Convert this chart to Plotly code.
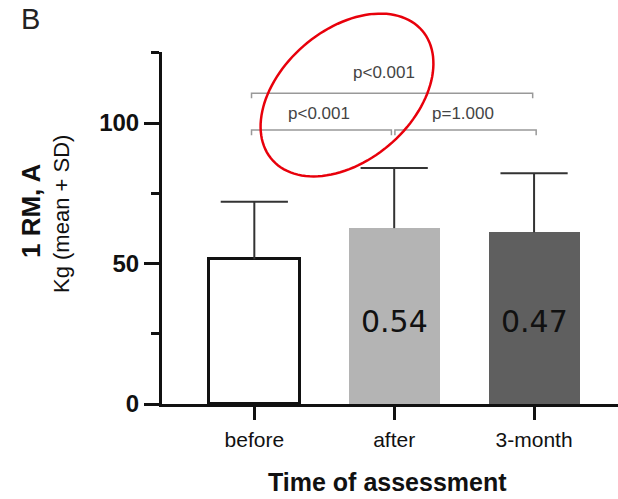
import numpy as np
import plotly.graph_objects as go

# ---- data ----
categories = ["before", "after", "3-month"]
means = [51.5, 62.6, 61.1]
sds = [20.5, 21.4, 21.0]
bar_colors = ["#ffffff", "#b4b4b4", "#5f5f5f"]
bar_outline = [3, 0, 0]
bar_value_labels = ["", "0.54", "0.47"]
bar_value_y = 29.3
# comparisons: (from index, to index, bracket y, label x, label y, label)
comparisons = [
    (-0.02, 1.99, 110.6, 0.93, 118.0, "p<0.001"),
    (-0.02, 0.98, 97.5, 0.46, 103.5, "p<0.001"),
    (1.005, 2.015, 97.5, 1.49, 103.5, "p=1.000"),
]
y_ticks = [0, 50, 100]

W, H = 618, 499
L, R, T, B = 162, 0, 52, 95
PW, PH = W - L - R, H - T - B
YMAX = 125.3


def px_to_paper(px, py):
    return (px - L) / PW, (H - B - py) / PH


xs = list(range(len(categories)))

fig = go.Figure()
fig.add_trace(go.Bar(
    x=xs, y=means, width=0.65,
    marker=dict(color=bar_colors, line=dict(color="#111111", width=bar_outline)),
    showlegend=False, hoverinfo="skip",
))

# error bars (mean + SD only, no cap at the base)
stem_x, stem_y = [], []
for x, m, s in zip(xs, means, sds):
    stem_x += [x, x, None]
    stem_y += [m, m + s, None]
fig.add_trace(go.Scatter(x=stem_x, y=stem_y, mode="lines",
                         line=dict(color="#333333", width=2),
                         showlegend=False, hoverinfo="skip"))
fig.add_trace(go.Scatter(x=xs, y=[m + s for m, s in zip(means, sds)], mode="markers",
                         marker=dict(symbol="line-ew", size=48,
                                     line=dict(color="#333333", width=2)),
                         showlegend=False, hoverinfo="skip"))

annotations = []
for i, lab in enumerate(bar_value_labels):
    if lab:
        annotations.append(dict(x=xs[i], y=bar_value_y, xref="x", yref="y", text=lab,
                                xanchor="center", yanchor="middle",
                                showarrow=False, font=dict(family="DejaVu Sans", size=30, color="#111111")))

shapes = []
drop = 1.8
for (a, b, yb, xl, yl, lab) in comparisons:
    shapes.append(dict(type="path", xref="x", yref="y",
                       path=f"M {a},{yb-drop} L {a},{yb} L {b},{yb} L {b},{yb-drop}",
                       line=dict(color="#999999", width=1.5)))
    annotations.append(dict(x=xl, y=yl, xref="x", yref="y", text=lab, showarrow=False,
                            xanchor="center", yanchor="middle",
                            font=dict(family="Liberation Sans", size=17, color="#444444")))

# red ellipse (hand drawn highlight), in pixel space
cx, cy, a_, b_, th = 347, 95, 99, 65.5, np.deg2rad(40.6)
t = np.linspace(0, 2 * np.pi, 120)
ex = cx + a_ * np.cos(t) * np.cos(th) - b_ * np.sin(t) * np.sin(th)
ey = cy - (a_ * np.cos(t) * np.sin(th) + b_ * np.sin(t) * np.cos(th))
pts = [px_to_paper(x, y) for x, y in zip(ex, ey)]
path = "M " + " L ".join(f"{p[0]:.4f},{p[1]:.4f}" for p in pts) + " Z"
shapes.append(dict(type="path", xref="paper", yref="paper", path=path,
                   line=dict(color="#e8000b", width=2.5)))


def add_text(px, py, text, size, color="#111111", angle=0):
    x, y = px_to_paper(px, py)
    annotations.append(dict(x=x, y=y, xref="paper", yref="paper", text=text,
                            xanchor="center", yanchor="middle", textangle=angle,
                            showarrow=False,
                            font=dict(family="Liberation Sans", size=size, color=color)))


add_text(31, 211, "<b>1 RM, A</b>", 26, angle=-90)
add_text(61, 214, "Kg (mean + SD)", 22, angle=-90)
add_text(387, 482, "<b>Time of assessment</b>", 25)
add_text(30, 19, "B", 29, color="#222222")

fig.update_layout(
    width=W, height=H, margin=dict(l=L, r=R, t=T, b=B, pad=0),
    plot_bgcolor="white", paper_bgcolor="white",
    shapes=shapes, annotations=annotations, bargap=0,
)
fig.update_xaxes(range=[-0.66, 2.6], tickvals=xs, ticktext=categories,
                 showline=True, linecolor="#111111", linewidth=3,
                 ticks="outside", ticklen=13, tickwidth=3, tickcolor="#111111",
                 ticklabelstandoff=2,
                 tickfont=dict(family="Liberation Sans", size=21, color="#111111"),
                 showgrid=False, zeroline=False)
fig.update_yaxes(range=[0, YMAX], tickvals=y_ticks,
                 showline=True, linecolor="#111111", linewidth=3,
                 ticks="outside", ticklen=15, tickwidth=3, tickcolor="#111111",
                 minor=dict(dtick=25, tick0=0, ticks="outside", ticklen=8, tickwidth=3, tickcolor="#111111"),
                 tickfont=dict(family="Liberation Sans", size=24, color="#111111", weight="bold"),
                 showgrid=False, zeroline=False)

fig.write_html("out.html")
